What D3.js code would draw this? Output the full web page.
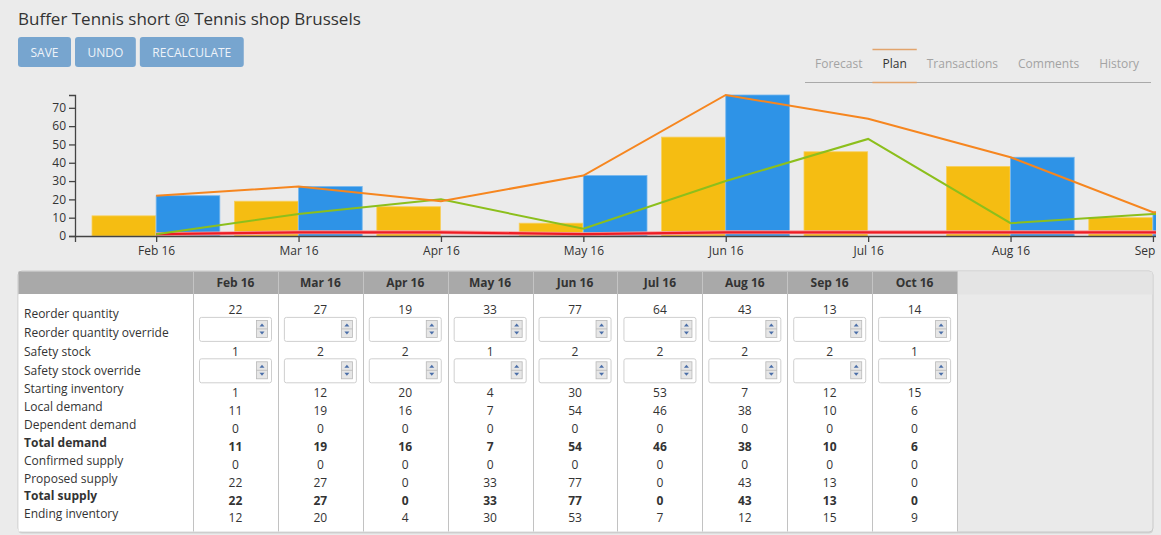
<!DOCTYPE html>
<html>
<head>
<meta charset="utf-8">
<script src="https://cdn.jsdelivr.net/npm/d3@7"></script>
<style>
  body { margin: 0; background: #ebebeb; }
  svg text { font-family: "Open Sans", sans-serif; }
</style>
</head>
<body>
<svg id="page" width="1161" height="535"></svg>
<script>
// chart + table data
const months = ["Feb 16", "Mar 16", "Apr 16", "May 16", "Jun 16", "Jul 16", "Aug 16", "Sep 16", "Oct 16"]
const reorderQuantity = [22, 27, 19, 33, 77, 64, 43, 13, 14]
const safetyStock = [1, 2, 2, 1, 2, 2, 2, 2, 1]
const startingInventory = [1, 12, 20, 4, 30, 53, 7, 12, 15]
const localDemand = [11, 19, 16, 7, 54, 46, 38, 10, 6]
const dependentDemand = [0, 0, 0, 0, 0, 0, 0, 0, 0]
const totalDemand = [11, 19, 16, 7, 54, 46, 38, 10, 6]
const confirmedSupply = [0, 0, 0, 0, 0, 0, 0, 0, 0]
const proposedSupply = [22, 27, 0, 33, 77, 0, 43, 13, 0]
const totalSupply = [22, 27, 0, 33, 77, 0, 43, 13, 0]
const endingInventory = [12, 20, 4, 30, 53, 7, 12, 15, 9]
const yTicks = [0, 10, 20, 30, 40, 50, 60, 70]

const title = "Buffer Tennis short @ Tennis shop Brussels"
const buttons = ["SAVE", "UNDO", "RECALCULATE"]
const tabs = ["Forecast", "Plan", "Transactions", "Comments", "History"]
const activeTab = "Plan"

const svg = d3.select("#page")
svg.append("rect").attr("width", 1161).attr("height", 535).attr("fill", "#ebebeb")

/* header */
svg.append("text")
  .attr("x", 18).attr("y", 25)
  .attr("font-size", 17).attr("fill", "#333")
  .text(title)

let bx = 18
buttons.forEach(b => {
  let g = svg.append("g")
  let r = g.append("rect").attr("y", 37).attr("height", 30).attr("rx", 3).attr("fill", "#77a5cf")
  let t = g.append("text").attr("y", 57).attr("font-size", 12).attr("fill", "#eef3f9").text(b)
  let w = t.node().getComputedTextLength() + 25
  r.attr("x", bx).attr("width", w)
  t.attr("x", bx + w / 2).attr("text-anchor", "middle")
  bx += w + 4
})

let tx = 805
svg.append("line")
  .attr("x1", 805).attr("x2", 1151).attr("y1", 82.5).attr("y2", 82.5)
  .attr("stroke", "#a9a9a9")
tabs.forEach(name => {
  let active = name === activeTab
  let t = svg.append("text")
    .attr("y", 68).attr("font-size", 12)
    .attr("fill", active ? "#333" : "#a3a3a3")
    .text(name)
  let w = t.node().getComputedTextLength() + 20
  t.attr("x", tx + 10)
  if (active) {
    svg.append("line").attr("x1", tx).attr("x2", tx + w).attr("y1", 49.5).attr("y2", 49.5)
      .attr("stroke", "#e2a46c").attr("stroke-width", 1.5)
    svg.append("line").attr("x1", tx).attr("x2", tx + w).attr("y1", 82.5).attr("y2", 82.5)
      .attr("stroke", "#e2a46c").attr("stroke-width", 1.5)
  }
  tx += w
})

/* chart */
svg.append("clipPath").attr("id", "chartClip")
  .append("rect").attr("x", 0).attr("y", 85).attr("width", 1156).attr("height", 180)

const chart = svg.append("g").attr("clip-path", "url(#chartClip)")

const x = d3.scalePoint().domain(months).range([75, 1376.5]).padding(0.57)
const y = d3.scaleLinear().domain([0, d3.max(reorderQuantity)]).range([236, 95])
const barW = x.step() * 0.447

chart.selectAll("rect.demand")
  .data(months)
  .join("rect")
  .attr("class", "demand")
  .attr("x", d => x(d) - barW - 0.5)
  .attr("width", barW)
  .attr("y", (d, i) => y(totalDemand[i]))
  .attr("height", (d, i) => y(0) - y(totalDemand[i]))
  .attr("fill", "#f5bd12")
  .attr("stroke", "#f8cf5c").attr("stroke-width", 0.8)

chart.selectAll("rect.supply")
  .data(months)
  .join("rect")
  .attr("class", "supply")
  .attr("x", d => x(d))
  .attr("width", barW)
  .attr("y", (d, i) => y(totalSupply[i]))
  .attr("height", (d, i) => y(0) - y(totalSupply[i]))
  .attr("fill", "#2e93e7")
  .attr("stroke", "#74b6ee").attr("stroke-width", 0.8)

const lineFor = values => d3.line()
  .x((d, i) => x(months[i]))
  .y(d => y(d))(values)

chart.append("path").attr("d", lineFor(safetyStock))
  .attr("fill", "none").attr("stroke", "#f7a0a0").attr("stroke-width", 4)
chart.append("path").attr("d", lineFor(safetyStock))
  .attr("fill", "none").attr("stroke", "#ee1c24").attr("stroke-width", 2.2)
chart.append("path").attr("d", lineFor(startingInventory))
  .attr("fill", "none").attr("stroke", "#8cbf1c").attr("stroke-width", 2)
chart.append("path").attr("d", lineFor(reorderQuantity))
  .attr("fill", "none").attr("stroke", "#f6861f").attr("stroke-width", 2)

const xAxis = chart.append("g")
  .attr("transform", `translate(0,${y(0)})`)
  .call(d3.axisBottom(x).tickSize(6).tickPadding(4))
const yAxis = chart.append("g")
  .attr("transform", "translate(75,0)")
  .call(d3.axisLeft(y).tickValues(yTicks).tickSize(6).tickPadding(3))

for (let a of [xAxis, yAxis]) {
  a.select(".domain").attr("stroke", "#444").attr("stroke-width", 1.3)
  a.selectAll(".tick line").attr("stroke", "#444").attr("stroke-width", 1.3)
  a.selectAll("text").attr("font-size", 12).attr("fill", "#333")
    .attr("font-family", "'Open Sans', sans-serif")
}
xAxis.selectAll("text").attr("dy", "0.71em")

/* table */
const rows = [
  { label: "Reorder quantity", values: reorderQuantity },
  { label: "Reorder quantity override", input: true },
  { label: "Safety stock", values: safetyStock },
  { label: "Safety stock override", input: true },
  { label: "Starting inventory", values: startingInventory },
  { label: "Local demand", values: localDemand },
  { label: "Dependent demand", values: dependentDemand },
  { label: "Total demand", values: totalDemand, bold: true },
  { label: "Confirmed supply", values: confirmedSupply },
  { label: "Proposed supply", values: proposedSupply },
  { label: "Total supply", values: totalSupply, bold: true },
  { label: "Ending inventory", values: endingInventory }
]

const tTop = 271, tHead = 294, tBottom = 532, tLeft = 18, tRight = 1153, labelRight = 193
const col = d3.scaleBand().domain(months).range([labelRight, 957])

const table = svg.append("g")
// shadow + outer box
table.append("rect")
  .attr("x", tLeft).attr("y", tTop + 1.5).attr("width", tRight - tLeft).attr("height", tBottom - tTop)
  .attr("rx", 4).attr("fill", "#d2d2d2")
table.append("rect")
  .attr("x", tLeft).attr("y", tTop).attr("width", tRight - tLeft).attr("height", tBottom - tTop)
  .attr("rx", 4).attr("fill", "#eaeaea").attr("stroke", "#c9c9c9")
table.append("rect")
  .attr("x", 957).attr("y", tTop + 0.5).attr("width", tRight - 957 - 0.5).attr("height", tHead - tTop)
  .attr("fill", "#e4e4e4")
table.append("rect")
  .attr("x", tLeft + 0.5).attr("y", tTop + 0.5).attr("width", 957 - tLeft).attr("height", tHead - tTop)
  .attr("fill", "#a9a9a9")
table.append("rect")
  .attr("x", tLeft + 0.5).attr("y", tHead).attr("width", 957 - tLeft).attr("height", tBottom - tHead - 0.5)
  .attr("fill", "#fff")

// column separators
const seps = [labelRight].concat(months.map(m => col(m) + col.bandwidth()))
table.selectAll("line.sepHead")
  .data(seps).join("line")
  .attr("x1", d => Math.round(d) + 0.5).attr("x2", d => Math.round(d) + 0.5)
  .attr("y1", tTop + 0.5).attr("y2", tHead)
  .attr("stroke", "#c4c4c4")
table.selectAll("line.sepBody")
  .data(seps).join("line")
  .attr("x1", d => Math.round(d) + 0.5).attr("x2", d => Math.round(d) + 0.5)
  .attr("y1", tHead).attr("y2", tBottom - 0.5)
  .attr("stroke", "#c2c2c2")

table.selectAll("text.head")
  .data(months).join("text")
  .attr("x", d => col(d) + col.bandwidth() / 2)
  .attr("y", 287)
  .attr("text-anchor", "middle")
  .attr("font-size", 12).attr("font-weight", "bold").attr("fill", "#333")
  .text(d => d)

const labelY = d3.scaleLinear().domain([0, 4, 11]).range([318.3, 393.3, 518.3])
table.selectAll("text.label")
  .data(rows).join("text")
  .attr("x", 24)
  .attr("y", (d, i) => labelY(i))
  .attr("font-size", 12).attr("fill", "#333")
  .attr("font-weight", d => d.bold ? "bold" : null)
  .text(d => d.label)

// value cells stack: text rows 17.9 high, input rows 23.5 high
let rowTop = 300.5
rows.forEach(r => {
  if (r.input) {
    months.forEach(m => {
      let cx = col(m)
      let g = table.append("g")
      g.append("rect")
        .attr("x", cx + 6.5).attr("y", rowTop - 1).attr("width", 72).attr("height", 24)
        .attr("rx", 2).attr("fill", "#fff").attr("stroke", "#cfcfcf")
      let sx = cx + 63.5, sy = rowTop + 2
      g.append("rect")
        .attr("x", sx).attr("y", sy).attr("width", 11).attr("height", 17)
        .attr("fill", "#e6e6e6").attr("stroke", "#b8b8b8").attr("stroke-width", 0.8)
      g.append("line")
        .attr("x1", sx).attr("x2", sx + 11).attr("y1", sy + 8.5).attr("y2", sy + 8.5)
        .attr("stroke", "#b8b8b8").attr("stroke-width", 0.8)
      g.append("path")
        .attr("d", `M${sx + 3},${sy + 6}L${sx + 5.5},${sy + 3}L${sx + 8},${sy + 6}Z`)
        .attr("fill", "#4a6ea8")
      g.append("path")
        .attr("d", `M${sx + 3},${sy + 11}L${sx + 5.5},${sy + 14}L${sx + 8},${sy + 11}Z`)
        .attr("fill", "#4a6ea8")
    })
    rowTop += 23.5
  } else {
    table.append("g").selectAll("text")
      .data(r.values).join("text")
      .attr("x", (d, i) => col(months[i]) + col.bandwidth() / 2)
      .attr("y", rowTop + 13.8)
      .attr("text-anchor", "middle")
      .attr("font-size", 12).attr("fill", "#333")
      .attr("font-weight", r.bold ? "bold" : null)
      .text(d => d)
    rowTop += 17.9
  }
})
</script>
</body>
</html>
